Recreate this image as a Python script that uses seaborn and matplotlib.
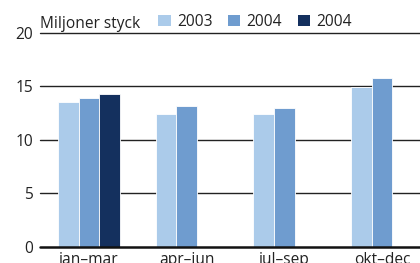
import numpy as np
import pandas as pd
import matplotlib
matplotlib.use("Agg")
import matplotlib.pyplot as plt
import seaborn as sns
from matplotlib.patches import Patch

categories = ["jan–mar", "apr–jun", "jul–sep", "okt–dec"]
series_labels = ["2003", "2004", "2004"]
values_2003 = [13.5, 12.4, 12.4, 14.9]
values_2004 = [13.9, 13.2, 13.0, 15.8]
values_2004b = [14.3, np.nan, np.nan, np.nan]
colors = ["#abcbea", "#6f9ccf", "#14305e"]
y_ticks = [0, 5, 10, 15, 20]
unit_label = "Miljoner styck"

sns.set_theme(style="white")
plt.rcParams["font.family"] = ["Open Sans", "DejaVu Sans"]

rows = []
for si, vals in enumerate([values_2003, values_2004, values_2004b]):
    for c, v in zip(categories, vals):
        rows.append({"cat": c, "series": f"s{si}", "value": v})
df = pd.DataFrame(rows)

fs = 11.2
fig = plt.figure(figsize=(4.2, 2.63), dpi=100)
ax = fig.add_axes([40/420, 16.3/263, 380/420, 213.7/263])

sns.barplot(data=df, x="cat", y="value", hue="series", order=categories,
            hue_order=["s0", "s1", "s2"], palette=colors, saturation=1,
            width=0.635, edgecolor="white", linewidth=0.6, ax=ax,
            legend=False, errorbar=None, zorder=3)

ax.set_ylim(0, 20)
ax.set_xlim(-0.5, 3.39)
ax.set_yticks(y_ticks)
ax.set_yticklabels([str(t) for t in y_ticks], fontsize=fs, color="#222222")
ax.tick_params(axis="y", length=0, pad=5)
ax.tick_params(axis="x", length=0, pad=3.5, labelsize=fs, labelcolor="#222222")
ax.set_xlabel("")
ax.set_ylabel("")
for s in ax.spines.values():
    s.set_visible(False)
for t in y_ticks[1:]:
    ax.axhline(t, color="#222222", lw=1.0, zorder=1, clip_on=False)
ax.axhline(0, color="#111111", lw=1.8, zorder=4, clip_on=False)

fig.text(40/420, 1 - 28/263, unit_label, fontsize=fs, color="#222222",
         ha="left", va="baseline")
handles = [Patch(facecolor=c, edgecolor="none") for c in colors]
fig.legend(handles, series_labels, loc="lower left",
           bbox_to_anchor=(155/420, 1 - 33/263), ncol=3, frameon=False,
           fontsize=fs, handlelength=0.8, handleheight=0.8,
           handletextpad=0.4, columnspacing=1.0, borderaxespad=0,
           borderpad=0.2, labelcolor="#222222")

fig.savefig("out.png", dpi=100)
